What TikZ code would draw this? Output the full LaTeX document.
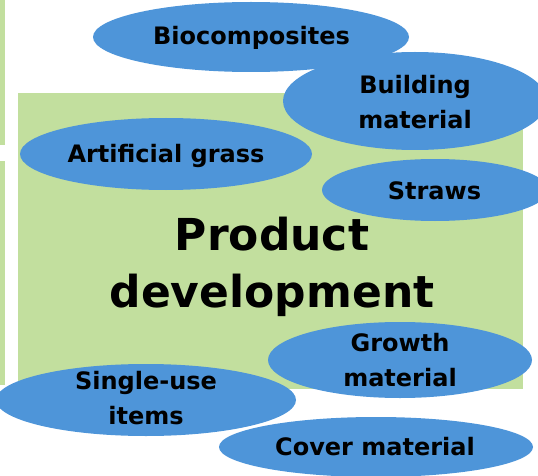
\documentclass[tikz,border=0pt]{standalone}
\usepackage{fontspec}
\setmainfont{DejaVu Sans}
\usetikzlibrary{shapes.geometric}
\definecolor{bluefill}{RGB}{78,149,217}
\definecolor{greenfill}{RGB}{194,223,158}
\begin{document}
\begin{tikzpicture}[x=1pt,y=-1pt,
  bubble/.style={ellipse, fill=bluefill, draw=none, inner sep=0pt},
  lbl/.style={inner sep=0pt, align=center, text=black, font=\fontsize{24}{35}\selectfont\bfseries},
  panel/.style={fill=greenfill, draw=none, inner sep=0pt, anchor=north west}]
\useasboundingbox (0,0) rectangle (538,476);
\clip (0,0) rectangle (538,476);
% green panels
\node[panel, minimum width=5pt, minimum height=145pt] (strip1) at (0,0) {};
\node[panel, minimum width=5pt, minimum height=224pt] (strip2) at (0,161) {};
\node[panel, minimum width=505pt, minimum height=296pt] (panel) at (18,93) {};
% title
\node[inner sep=0pt, align=center, font=\fontsize{44}{56.7}\selectfont\bfseries] (title) at (272,266.9) {Product\\development};
% bubbles
\node[bubble, minimum width=316pt, minimum height=70pt] (bio) at (251,37) {};
\node[bubble, minimum width=264pt, minimum height=98pt] (build) at (415,101) {};
\node[bubble, minimum width=292pt, minimum height=72pt] (grass) at (166,154) {};
\node[bubble, minimum width=226pt, minimum height=62pt] (straw) at (435,190) {};
\node[bubble, minimum width=264pt, minimum height=76pt] (growth) at (400,360) {};
\node[bubble, minimum width=300pt, minimum height=72pt] (single) at (146,400) {};
\node[bubble, minimum width=314pt, minimum height=60pt] (cover) at (376,447) {};
% labels
\node[lbl, anchor=base] (tbio) at (251.5,44.3) {Biocomposites};
\node[lbl] (tbuild) at (415,101.7) {Building\\material};
\node[lbl, anchor=base] (tgrass) at (166,163) {Artificial grass};
\node[lbl, anchor=base] (tstraw) at (434.5,199.8) {Straws};
\node[lbl] (tgrowth) at (400,360.2) {Growth\\material};
\node[lbl] (tsingle) at (146,398.3) {Single-use\\items};
\node[lbl, anchor=base] (tcover) at (375,455.3) {Cover material};
\end{tikzpicture}
\end{document}
